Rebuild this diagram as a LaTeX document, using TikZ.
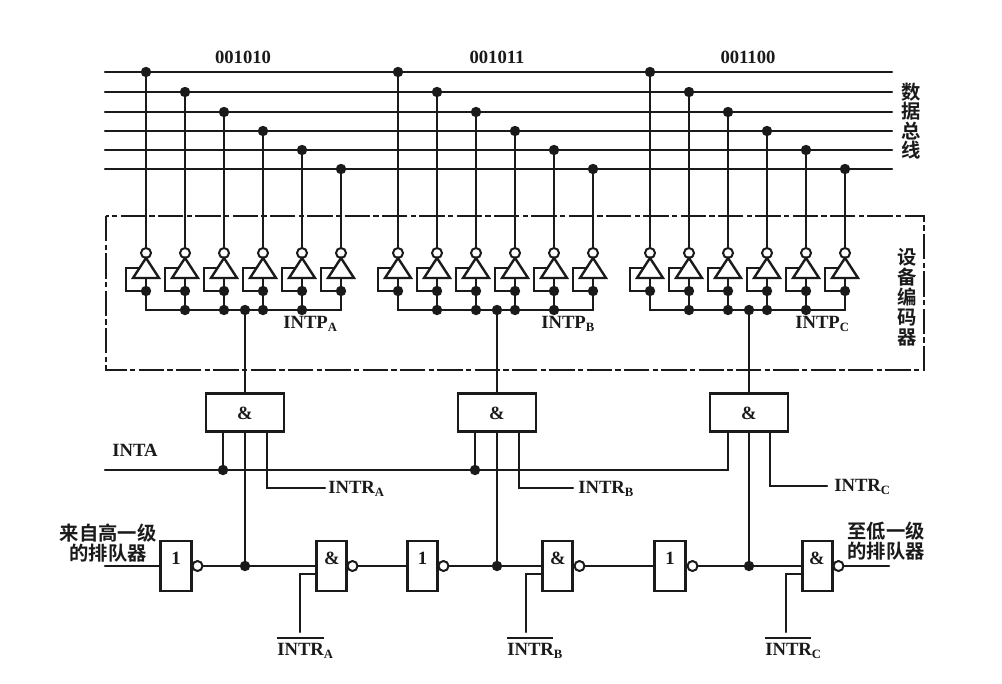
\documentclass[tikz,border=0pt]{standalone}
\usepackage{fontspec}
\setmainfont{Liberation Serif}
\newfontfamily\cjk{Noto Sans CJK SC}[BoldFont={* Bold}]
\usetikzlibrary{calc}
\definecolor{ink}{HTML}{1A1A1A}
\newcommand{\sbs}[1]{\raisebox{-0.35ex}{\fontsize{9.5}{10}\selectfont #1}}
\newcommand{\lbl}[2]{{\kern0pt #1\sbs{#2}}}
\tikzset{
 wire/.style={line width=1.8pt,draw=ink,line cap=round},
 bar/.style={line width=1.5pt,draw=ink},
 jdot/.style={circle,fill=ink,inner sep=0pt,minimum size=7.8pt},
 bub/.style={circle,draw=ink,fill=white,line width=1.5pt,inner sep=0pt,minimum size=7.5pt},
 tri/.style={line width=1.8pt,draw=ink,line join=miter,fill=white},
 gate/.style={rectangle,draw=ink,line width=2.2pt,fill=white,inner sep=0pt},
 widebox/.style={gate,minimum width=58.5pt,minimum height=28pt},
 tallbox/.style={gate,minimum width=23pt,minimum height=37.5pt},
 txt/.style={font=\fontsize{14}{15}\selectfont\bfseries,text=ink,inner sep=0pt},
 cn/.style={font=\cjk\fontsize{14.5}{14.6}\selectfont\bfseries,text=ink,inner sep=0pt,align=center},
 frame/.style={line width=1.7pt,draw=ink,dash pattern=on 19pt off 2.5pt on 4pt off 2.5pt},
}
\newcommand{\encblock}[2]{%
 \foreach \i/\yy in {1/72,2/92,3/112,4/131,5/150,6/169}{%
  \pgfmathsetmacro{\xx}{#2+146+(\i-1)*39}%
  \node[jdot] (t#1\i) at (\xx,\yy) {};
  \node[bub] (b#1\i) at (\xx,253) {};
  \draw[wire] (t#1\i) -- (b#1\i);
  \node[jdot] (m#1\i) at (\xx,291) {};
  \coordinate (c#1\i) at (\xx,310);
  \draw[wire] (\xx,278) -- (m#1\i);
  \draw[wire] (m#1\i) -- (c#1\i);
  \draw[wire] (\xx-6,268) -- (\xx-20,268) -- (\xx-20,291) -- (m#1\i);
  \draw[tri] (\xx,258) -- (\xx+13,278) -- (\xx-13,278) -- cycle;
 }%
 \draw[wire] (c#11) -- (c#16);
 \foreach \i in {2,3,4,5}{\node[jdot] at (c#1\i) {};}
}
\begin{document}
\begin{tikzpicture}[x=0.75pt,y=-0.75pt]
\useasboundingbox (0,0) rectangle (1002,683);
\fill[white] (0,0) rectangle (1002,683);
% data bus
\foreach \i/\yy in {1/72,2/92,3/112,4/131,5/150,6/169}{
 \coordinate (busL\i) at (105,\yy);
 \coordinate (busR\i) at (892,\yy);
 \draw[wire] (busL\i) -- (busR\i);
}
\node[txt] (codeA) at (243,57) {001010};
\node[txt] (codeB) at (497,57) {001011};
\node[txt] (codeC) at (748,57) {001100};
\node[cn] (busname) at (911,121) {数\\据\\总\\线};
% encoder frame
\draw[frame] (106,216) rectangle (924,370);
\node[cn,font=\cjk\fontsize{14.5}{15}\selectfont\bfseries] (encname) at (907,297) {设\\备\\编\\码\\器};
% encoder blocks
\encblock{A}{0}
\encblock{B}{252}
\encblock{C}{504}
\node[jdot] (jA) at (245,310) {};
\node[jdot] (jB) at (497,310) {};
\node[jdot] (jC) at (749,310) {};
\node[txt,anchor=west] (intpA) at (283,324) {\lbl{INTP}{A}};
\node[txt,anchor=west] (intpB) at (541,324) {\lbl{INTP}{B}};
\node[txt,anchor=west] (intpC) at (795,324) {\lbl{INTP}{C}};
% upper AND gates
\node[widebox] (andA) at (245,412.5) {};
\node[widebox] (andB) at (497,412.5) {};
\node[widebox] (andC) at (749,412.5) {};
\node[txt] (ampA) at (245,413) {\&};
\node[txt] (ampB) at (497,413) {\&};
\node[txt] (ampC) at (749,413) {\&};
\draw[wire] (jA) -- (andA);
\draw[wire] (jB) -- (andB);
\draw[wire] (jC) -- (andC);
% INTA line
\node[txt,anchor=west] (inta) at (112,450) {INTA};
\coordinate (intaL) at (105,470);
\node[jdot] (ia) at (223,470) {};
\node[jdot] (ib) at (475,470) {};
\coordinate (ic) at (728,470);
\draw[wire] (intaL) -- (ia) -- (ib) -- (ic);
\draw[wire] (ia) -- (ia |- andA.south);
\draw[wire] (ib) -- (ib |- andB.south);
\draw[wire] (ic) -- (ic |- andC.south);
% INTR lines
\node[txt,anchor=west] (intrA) at (328,489) {\lbl{INTR}{A}};
\node[txt,anchor=west] (intrB) at (578,489) {\lbl{INTR}{B}};
\node[txt,anchor=west] (intrC) at (834,487) {\lbl{INTR}{C}};
\coordinate (ra) at (267,488);
\coordinate (rb) at (519,488);
\coordinate (rc) at (770,486);
\draw[wire] (ra |- andA.south) -- (ra) -- (325,488);
\draw[wire] (rb |- andB.south) -- (rb) -- (573,488);
\draw[wire] (rc |- andC.south) -- (rc) -- (827,486);
% daisy chain gates
\node[tallbox] (notA) at (176,566) {};
\node[tallbox] (notB) at (422.5,566) {};
\node[tallbox] (notC) at (670,566) {};
\node[tallbox] (nandA) at (331.5,566) {};
\node[tallbox] (nandB) at (557.5,566) {};
\node[tallbox] (nandC) at (817.5,566) {};
\node[txt] (oneA) at (176,558) {1};
\node[txt] (oneB) at (422.5,558) {1};
\node[txt] (oneC) at (670,558) {1};
\node[txt] (ampD) at (332,558) {\&};
\node[txt] (ampE) at (558,558) {\&};
\node[txt] (ampF) at (817,558) {\&};
\node[bub] (bnA) at (197.5,566) {};
\node[bub] (bnB) at (443.5,566) {};
\node[bub] (bnC) at (692.5,566) {};
\node[bub] (baA) at (352.5,566) {};
\node[bub] (baB) at (579.5,566) {};
\node[bub] (baC) at (838.5,566) {};
\node[jdot] (ka) at (245,566) {};
\node[jdot] (kb) at (497,566) {};
\node[jdot] (kc) at (749,566) {};
\coordinate (inL) at (105,566);
\coordinate (outR) at (889,566);
\draw[wire] (inL) -- (notA);
\draw[wire] (bnA) -- (ka) -- (nandA);
\draw[wire] (baA) -- (notB);
\draw[wire] (bnB) -- (kb) -- (nandB);
\draw[wire] (baB) -- (notC);
\draw[wire] (bnC) -- (kc) -- (nandC);
\draw[wire] (baC) -- (outR);
\draw[wire] (andA) -- (ka);
\draw[wire] (andB) -- (kb);
\draw[wire] (andC) -- (kc);
% lower inputs
\coordinate (la) at (300,574);
\coordinate (lb) at (526,574);
\coordinate (lc) at (786,574);
\draw[wire] (la -| nandA.west) -- (la) -- (300,632);
\draw[wire] (lb -| nandB.west) -- (lb) -- (526,632);
\draw[wire] (lc -| nandC.west) -- (lc) -- (786,632);
\node[txt,anchor=west] (ninA) at (277,651) {\lbl{INTR}{A}};
\node[txt,anchor=west] (ninB) at (507,651) {\lbl{INTR}{B}};
\node[txt,anchor=west] (ninC) at (765,651) {\lbl{INTR}{C}};
\draw[bar] (277,638) -- (324,638);
\draw[bar] (507,638) -- (553,638);
\draw[bar] (765,638) -- (811,638);
% chain labels
\node[cn] (fromH) at (108,543) {来自高一级\\的排队器};
\node[cn] (toL) at (886,541) {至低一级\\的排队器};
\end{tikzpicture}
\end{document}
